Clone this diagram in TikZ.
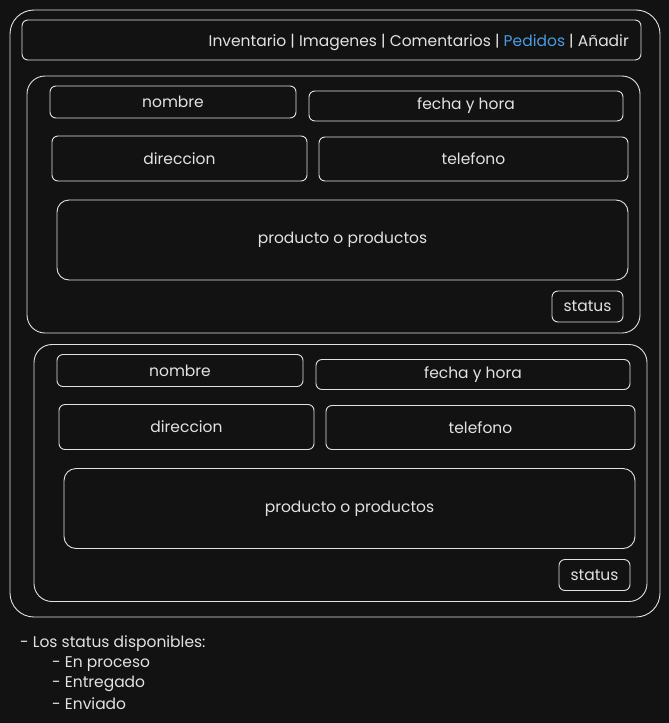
\documentclass[tikz,border=0pt]{standalone}
\usepackage{fontspec}
\setmainfont{Poppins}
\usepackage{tikz}
\usetikzlibrary{calc}
\usetikzlibrary{positioning}

\definecolor{bgdark}{HTML}{121212}
\definecolor{inkwhite}{HTML}{E2E2E2}
\definecolor{linkblue}{HTML}{4A9BE2}

\begin{document}
\begin{tikzpicture}[
		x=1pt, y=-1pt,
		every node/.style={text=inkwhite, font=\fontsize{15.5}{18}\selectfont},
		box/.style={draw=inkwhite, line width=0.9pt, rounded corners=6pt, inner sep=0pt},
		card/.style={draw=inkwhite, line width=0.9pt, rounded corners=18pt, inner sep=0pt},
		note/.style={anchor=west, inner sep=0pt}
		]
		\fill[bgdark] (0,0) rectangle (669,723);
		\useasboundingbox (0,0) rectangle (669,723);
		% page frame and menu
		\node[card, rounded corners=24pt, minimum width=650pt, minimum height=607pt] (frame) at (335,313.5) {};
		\node[box, minimum width=619pt, minimum height=40pt] (menu) at (331.5,40) {};
		\node[anchor=east, inner sep=0pt] (menutext) at (629,42)
			{Inventario | Imagenes | Comentarios | \textcolor{linkblue}{Pedidos} | Añadir};
		% one card per order
		\foreach \dx/\dy/\k in {0/0/A, 7/268.5/B} {
			\begin{scope}[shift={(\dx,\dy)}]
				\node[card, minimum width=613pt, minimum height=257pt] (order\k) at (333.5,204.5) {};
				\node[box, minimum width=246pt, minimum height=32pt] (nombre\k) at (173,102) {nombre};
				\node[box, minimum width=314pt, minimum height=30pt] (fecha\k) at (466,106) {fecha y hora};
				\node[box, minimum width=255pt, minimum height=45pt] (direccion\k) at (179.5,158.5) {direccion};
				\node[box, minimum width=309pt, minimum height=44pt] (telefono\k) at (473.5,159) {telefono};
				\node[box, rounded corners=12pt, minimum width=571pt, minimum height=80pt] (productos\k) at (342.5,240) {producto o productos};
				\node[box, minimum width=71pt, minimum height=31pt] (status\k) at (587.5,306.5) {status};
			\end{scope}
		}
		% list of states
		\node[note] (notehead) at (20,644) {- Los status disponibles:};
		\node[note] (noteproceso) at (52,664) {- En proceso};
		\node[note] (noteentregado) at (52,684) {- Entregado};
		\node[note] (noteenviado) at (52,704) {- Enviado};
	\end{tikzpicture}
\end{document}
